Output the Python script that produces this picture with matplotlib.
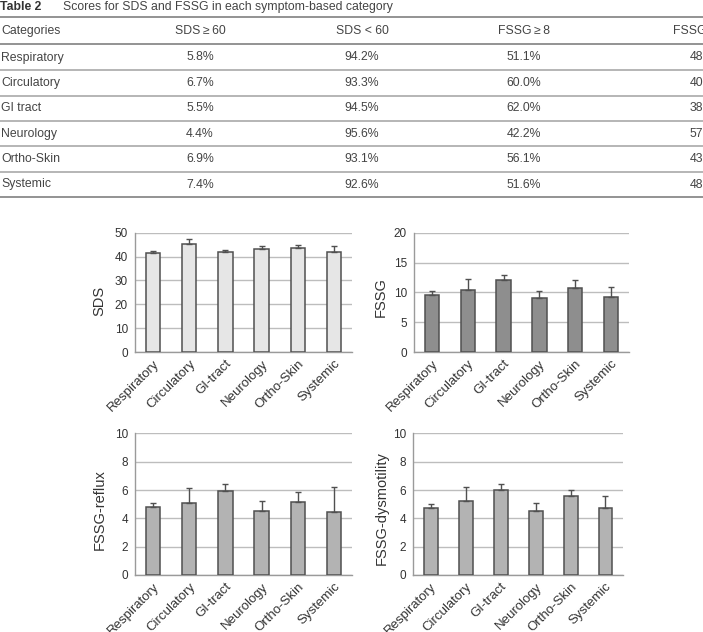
import numpy as np
import matplotlib.pyplot as plt
from matplotlib.lines import Line2D
from matplotlib.transforms import ScaledTranslation

plt.rcParams['font.family'] = ['Liberation Sans', 'DejaVu Sans']

# table data
table_header = ['Categories', 'SDS\u2009\u2265\u200960', 'SDS < 60', 'FSSG\u2009\u2265\u20098', 'FSSG < 8']
table_rows = ['Respiratory', 'Circulatory', 'GI tract', 'Neurology', 'Ortho-Skin', 'Systemic']
sds_hi = [5.8, 6.7, 5.5, 4.4, 6.9, 7.4]
sds_lo = [94.2, 93.3, 94.5, 95.6, 93.1, 92.6]
fssg_hi = [51.1, 60.0, 62.0, 42.2, 56.1, 51.6]
fssg_lo = [48.9, 40.0, 38.0, 57.8, 43.9, 48.4]

# chart data (mean, upper error)
categories = ['Respiratory', 'Circulatory', 'GI-tract', 'Neurology', 'Ortho-Skin', 'Systemic']
sds_mean = [41.5, 45.3, 42.0, 43.2, 43.6, 41.8]
sds_err = [0.7, 1.9, 0.8, 1.4, 1.4, 2.8]
fssg_mean = [9.6, 10.4, 12.1, 9.1, 10.8, 9.3]
fssg_err = [0.6, 1.9, 0.8, 1.2, 1.2, 1.6]
reflux_mean = [4.78, 5.08, 5.95, 4.52, 5.18, 4.42]
reflux_err = [0.32, 1.08, 0.45, 0.70, 0.72, 1.79]
dysm_mean = [4.76, 5.24, 6.04, 4.53, 5.55, 4.76]
dysm_err = [0.29, 0.99, 0.38, 0.59, 0.49, 0.83]

W, H = 703, 632
fig = plt.figure(figsize=(W / 100, H / 100), dpi=100)


def px(x, y):
    return x / W, 1 - y / H


# ---- table ----
tfont = 8.8
tcol = '#444444'
fig.text(*px(0, 7), 'Table 2', fontsize=tfont, fontweight='bold',
         color='#333333', va='center', ha='left')
fig.text(*px(63, 7), 'Scores for SDS and FSSG in each symptom-based category',
         fontsize=tfont, color=tcol, va='center', ha='left')

head_x = [1, 200, 362, 524, 700]
val_x = [1, 200, 362, 524, 707]
header_y = 31
row_y0, row_dy = 57.5, 25.4
for j, h in enumerate(table_header):
    fig.text(*px(head_x[j], header_y), h, fontsize=tfont, color=tcol,
             va='center', ha='left' if j == 0 else 'center')
for i, name in enumerate(table_rows):
    y = row_y0 + i * row_dy
    vals = [name] + ['%.1f%%' % v[i] for v in (sds_hi, sds_lo, fssg_hi, fssg_lo)]
    for j, v in enumerate(vals):
        fig.text(*px(val_x[j], y), v, fontsize=tfont, color=tcol,
                 va='center', ha='left' if j == 0 else 'center')

line_y = [17, 43.5] + [row_y0 + (i + 0.5) * row_dy for i in range(len(table_rows))]
for k, y in enumerate(line_y):
    c = '#8a8a8a' if k in (0, 1, len(line_y) - 1) else '#b0b0b0'
    fig.add_artist(Line2D([0, 1], [1 - y / H] * 2, color=c, lw=1.3,
                          transform=fig.transFigure))


# ---- bar panels ----
def bar_panel(rect, means, errs, ylabel, ymax, step, color, lab_x, lab_y):
    ax = fig.add_axes(rect)
    x = np.arange(len(categories))
    ax.bar(x, means, width=0.4, color=color, edgecolor='#505050', linewidth=1.1, zorder=3)
    ax.errorbar(x, means, yerr=[np.zeros(len(errs)), errs], fmt='none',
                ecolor='#505050', elinewidth=1, capsize=2.5, capthick=1, zorder=4)
    ax.set_xlim(-0.5, len(categories) - 0.5)
    ax.set_ylim(0, ymax)
    ax.set_yticks(np.arange(0, ymax + step / 2, step))
    ax.yaxis.grid(True, color='#bdbdbd', lw=1)
    ax.set_axisbelow(True)
    for s in ('top', 'right'):
        ax.spines[s].set_visible(False)
    for s in ('left', 'bottom'):
        ax.spines[s].set_color('#9a9a9a')
        ax.spines[s].set_linewidth(1)
    ax.set_xticks(x)
    ax.set_xticklabels(categories, rotation=45, ha='right', rotation_mode='anchor',
                       fontsize=9.5, color='#333333')
    shift = ScaledTranslation(4 / 100, 0, fig.dpi_scale_trans)
    for lab in ax.get_xticklabels():
        lab.set_transform(lab.get_transform() + shift)
    ax.tick_params(axis='x', length=0, pad=4)
    ax.tick_params(axis='y', length=0, pad=5, labelsize=8.5, labelcolor='#333333')
    ax.set_ylabel(ylabel, fontsize=10.5, color='#333333')
    ax.yaxis.set_label_coords(lab_x, lab_y)
    return ax


bar_panel([0.1920, 0.4430, 0.3087, 0.1888], sds_mean, sds_err, 'SDS', 50, 10,
          '#e6e6e6', -0.134, 0.43)
bar_panel([0.5889, 0.4430, 0.3058, 0.1888], fssg_mean, fssg_err, 'FSSG', 20, 5,
          '#8e8e8e', -0.121, 0.46)
bar_panel([0.1920, 0.0902, 0.3087, 0.2239], reflux_mean, reflux_err, 'FSSG-reflux', 10, 2,
          '#b3b3b3', -0.129, 0.46)
bar_panel([0.5875, 0.0902, 0.2987, 0.2239], dysm_mean, dysm_err, 'FSSG-dysmotility', 10, 2,
          '#b3b3b3', -0.114, 0.47)

fig.savefig('out.png', dpi=100)
